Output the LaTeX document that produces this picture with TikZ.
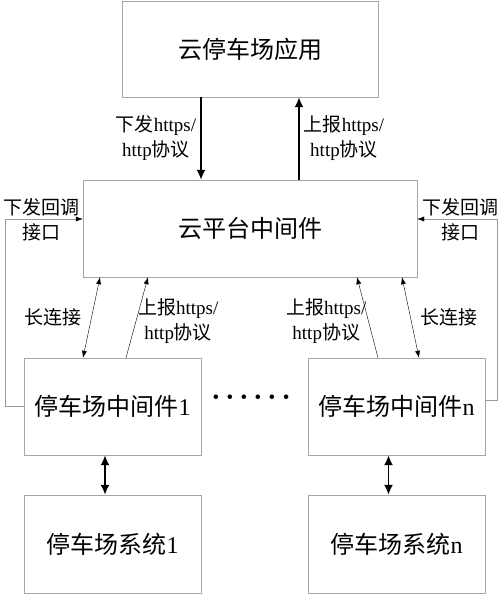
\documentclass[tikz,border=0pt]{standalone}
\usepackage{fontspec}
\setmainfont{Liberation Serif}
\newfontfamily\cjk{Noto Sans CJK SC}
\newcommand{\zh}[1]{{\cjk #1}}
\usetikzlibrary{arrows.meta,positioning}

\begin{document}
\begin{tikzpicture}[x=1pt, y=-1pt,
    box/.style={draw=gray!70, minimum width=177pt, minimum height=97pt, font=\fontsize{24}{28}\selectfont},
    lbl/.style={align=center, font=\fontsize{19}{25}\selectfont, inner sep=0pt},
    fat/.style={line width=1.8pt, -{Latex[length=10pt,width=9pt]}},
    fatboth/.style={line width=1.8pt, {Latex[length=10pt,width=9pt]}-{Latex[length=10pt,width=9pt]}},
    thin/.style={-{Latex[length=7pt,width=5pt]}},
    loopline/.style={draw=gray!80, -{Latex[length=7pt,width=5pt,color=black]}},
    thinboth/.style={{Latex[length=7pt,width=5pt]}-{Latex[length=7pt,width=5pt]}}]
    \useasboundingbox (0,0) rectangle (500,594);

    \node[box, minimum width=256pt, minimum height=96pt] (app) at (250,49) {\zh{云停车场应用}};
    \node[box, minimum width=334pt] (cloud) at (250,228.5) {\zh{云平台中间件}};
    \node[box] (mid1) at (112.5,406.5) {\zh{停车场中间件}1};
    \node[box] (midn) at (396.5,406.5) {\zh{停车场中间件}n};
    \node[box, minimum height=98pt] (sys1) at (112.5,544) {\zh{停车场系统}1};
    \node[box, minimum height=98pt] (sysn) at (396.5,544) {\zh{停车场系统}n};
    \node[lbl, font=\fontsize{19}{19}\selectfont] (dots) at (251,399) {•\hspace{7.4pt}•\hspace{7.4pt}•\hspace{7.4pt}•\hspace{7.4pt}•\hspace{7.4pt}•};

    % app <-> cloud
    \draw[fat] ([xshift=-49pt]app.south) -- ([xshift=-49pt]cloud.north)
        node[lbl, midway, left=4pt] (down) {\zh{下发}https/\\http\zh{协议}};
    \draw[fat] ([xshift=49pt]cloud.north) -- ([xshift=49pt]app.south)
        node[lbl, midway, right=4pt] (up) {\zh{上报}https/\\http\zh{协议}};

    % callback loops
    \coordinate (lcorner) at (5,219);
    \coordinate (rcorner) at (497,219);
    \draw[loopline] (mid1.west) -| (lcorner) -- (cloud.west |- lcorner);
    \draw[loopline] ([yshift=6.5pt]midn.east) -| (rcorner) -- (cloud.east |- rcorner);
    \node[lbl] (cbl) at (41,220) {\zh{下发回调}\\\zh{接口}};
    \node[lbl] (cbr) at (460,220) {\zh{下发回调}\\\zh{接口}};

    % middleware <-> cloud
    \draw[thinboth] ([xshift=-150pt]cloud.south) -- ([xshift=-29.5pt]mid1.north)
        node[lbl, pos=0.5, left=10pt] (long1) {\zh{长连接}};
    \draw[thin] ([xshift=13.5pt]mid1.north) -- ([xshift=-102pt]cloud.south)
        node[lbl, pos=0.45, right=2pt] (up1) {\zh{上报}https/\\http\zh{协议}};
    \draw[thinboth] ([xshift=152pt]cloud.south) -- ([xshift=22.5pt]midn.north)
        node[lbl, pos=0.5, right=10pt] (longn) {\zh{长连接}};
    \draw[thin] ([xshift=-18.5pt]midn.north) -- ([xshift=107pt]cloud.south)
        node[lbl, pos=0.45, left=2pt] (upn) {\zh{上报}https/\\http\zh{协议}};

    % middleware <-> system
    \draw[fatboth] ([xshift=-7.5pt]mid1.south) -- ([xshift=-7.5pt]sys1.north);
    \draw[fatboth] ([xshift=-8pt]midn.south) -- ([xshift=-8pt]sysn.north);
\end{tikzpicture}
\end{document}
